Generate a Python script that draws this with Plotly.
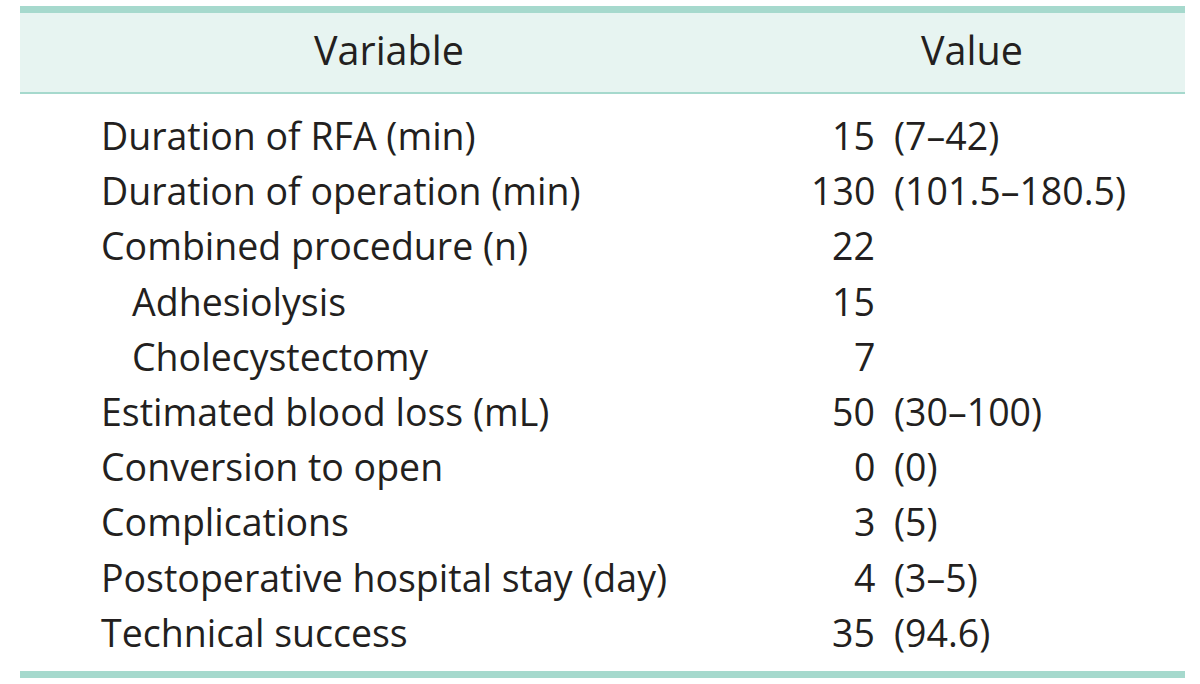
import plotly.graph_objects as go

# ---- data ----
variables = [
    "Duration of RFA (min)",
    "Duration of operation (min)",
    "Combined procedure (n)",
    "Adhesiolysis",
    "Cholecystectomy",
    "Estimated blood loss (mL)",
    "Conversion to open",
    "Complications",
    "Postoperative hospital stay (day)",
    "Technical success",
]
indent = [0, 0, 0, 1, 1, 0, 0, 0, 0, 0]
value_main = ["15", "130", "22", "15", "7", "50", "0", "3", "4", "35"]
value_extra = ["(7–42)", "(101.5–180.5)", "", "", "", "(30–100)", "(0)", "(5)", "(3–5)", "(94.6)"]
headers = ["Variable", "Value"]

# ---- layout constants ----
W, H = 1200, 684
FONT = "Open Sans"
FS = 37.5
HFS = 39.5
TEXT_COLOR = "#231f20"
LINE_COLOR = "#a6d9cd"
HEAD_BG = "#e7f4f1"

fig = go.Figure()
fig.update_layout(
    width=W, height=H, margin=dict(l=0, r=0, t=0, b=0),
    paper_bgcolor="white", plot_bgcolor="white",
    xaxis=dict(range=[0, W], visible=False, fixedrange=True),
    yaxis=dict(range=[H, 0], visible=False, fixedrange=True),
    showlegend=False,
)

x0, x1 = 20, 1185
fig.add_shape(type="rect", x0=x0, x1=x1, y0=13, y1=93, fillcolor=HEAD_BG, line_width=0, layer="below")
fig.add_shape(type="rect", x0=x0, x1=x1, y0=6, y1=13, fillcolor=LINE_COLOR, line_width=0)
fig.add_shape(type="rect", x0=x0, x1=x1, y0=92, y1=94, fillcolor=LINE_COLOR, line_width=0)
fig.add_shape(type="rect", x0=x0, x1=x1, y0=671, y1=678, fillcolor=LINE_COLOR, line_width=0)

font = dict(family=FONT, size=FS, color=TEXT_COLOR)
hfont = dict(family=FONT, size=HFS, color=TEXT_COLOR)
fig.add_annotation(x=389, y=50, text=headers[0], showarrow=False, xanchor="center", yanchor="middle", font=hfont)
fig.add_annotation(x=972, y=50, text=headers[1], showarrow=False, xanchor="center", yanchor="middle", font=hfont)

row0, step = 135.5, 55.2
for i, (v, ind, m, e) in enumerate(zip(variables, indent, value_main, value_extra)):
    y = row0 + i * step
    fig.add_annotation(x=99 + 31 * ind, y=y, text=v, showarrow=False, xanchor="left", yanchor="middle", font=font)
    fig.add_annotation(x=877, y=y, text=m, showarrow=False, xanchor="right", yanchor="middle", font=font)
    if e:
        fig.add_annotation(x=892, y=y, text=e, showarrow=False, xanchor="left", yanchor="middle", font=font)

fig.write_html("out.html", config={"displayModeBar": False},
               post_script="document.body.style.margin='0';")
